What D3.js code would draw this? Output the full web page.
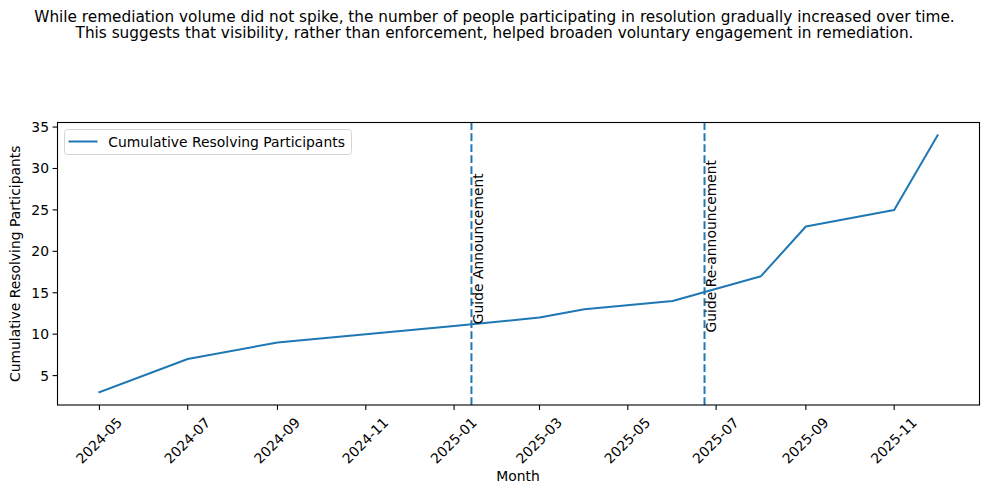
<!DOCTYPE html>
<html><head><meta charset="utf-8">
<script src="https://cdn.jsdelivr.net/npm/d3@7"></script>
<style>body{margin:0;background:#fff}svg{display:block;font-family:"DejaVu Sans",sans-serif}</style>
</head><body><svg id="c" width="989" height="495"></svg>
<script>
const months = ["2024-05-01","2024-07-01","2024-09-01","2024-11-01","2025-01-01","2025-03-01","2025-04-01","2025-06-01","2025-08-01","2025-09-01","2025-11-01","2025-12-01"];
const cumulative = [3,7,9,10,11,12,13,14,17,23,25,34];
const eventDates = ["2025-01-13","2025-06-23"];
const eventLabels = ["Guide Announcement","Guide Re-announcement"];
const eventLabelY = [11.2,10.2];
const yTicks = [5,10,15,20,25,30,35];
const titleLines = ["While remediation volume did not spike, the number of people participating in resolution gradually increased over time.","This suggests that visibility, rather than enforcement, helped broaden voluntary engagement in remediation."];
const seriesName = "Cumulative Resolving Participants";

const parse = d3.utcParse("%Y-%m-%d");
const data = months.map((m,i)=>({date:parse(m), v:cumulative[i]}));
const svg = d3.select("#c");
const L=57.5, R=979.5, T=122.5, B=405;
const color="#1f77b4";
const FS=13.9;
const d0=data[0].date, d1=data[data.length-1].date, span=d1-d0;
const x=d3.scaleUtc().domain([new Date(+d0-span*0.05), new Date(+d1+span*0.05)]).range([L,R]);
const ymin=d3.min(cumulative), ymax=d3.max(cumulative), ys=ymax-ymin;
const y=d3.scaleLinear().domain([ymin-ys*0.05, ymax+ys*0.05]).range([B,T]);

// title
svg.append("g").selectAll("text").data(titleLines).join("text")
  .attr("x",494.5).attr("y",(d,i)=>21.7+i*16.6).attr("text-anchor","middle")
  .attr("font-size",15.3).attr("fill","#000").text(d=>d);

// line
svg.append("path").datum(data).attr("fill","none").attr("stroke",color).attr("stroke-width",2)
  .attr("stroke-linejoin","round").attr("stroke-linecap","square")
  .attr("d",d3.line().x(d=>x(d.date)).y(d=>y(d.v)));

// event lines
eventDates.forEach((ed,i)=>{
  const ex=x(parse(ed));
  svg.append("line").attr("x1",ex).attr("x2",ex).attr("y1",B).attr("y2",T)
    .attr("stroke",color).attr("stroke-width",2).attr("stroke-dasharray","7.7,3.3");
  svg.append("text").attr("transform",`translate(${ex+11.3},${y(eventLabelY[i])}) rotate(-90)`)
    .attr("font-size",FS).attr("fill","#000").text(eventLabels[i]);
});

// axes frame
svg.append("rect").attr("x",L).attr("y",T).attr("width",R-L).attr("height",B-T)
  .attr("fill","none").attr("stroke","#000").attr("stroke-width",1.1);

// x ticks
const xt = d3.utcMonth.every(2).range(parse("2024-05-01"), parse("2025-12-02"));
const fmt = d3.utcFormat("%Y-%m");
const gx = svg.append("g");
xt.forEach(t=>{
  const tx=x(t);
  gx.append("line").attr("x1",tx).attr("x2",tx).attr("y1",B).attr("y2",B+4.9).attr("stroke","#000").attr("stroke-width",1.1);
  gx.append("text").attr("transform",`translate(${tx-0.5},${440.5}) rotate(-45)`)
    .attr("text-anchor","middle").attr("dominant-baseline","central")
    .attr("font-size",FS).text(fmt(t));
});
// y ticks
const gy = svg.append("g");
yTicks.forEach(v=>{
  const ty=y(v);
  gy.append("line").attr("x1",L-4.9).attr("x2",L).attr("y1",ty).attr("y2",ty).attr("stroke","#000").attr("stroke-width",1.1);
  gy.append("text").attr("x",L-8.5).attr("y",ty).attr("text-anchor","end").attr("dominant-baseline","central")
    .attr("font-size",FS).text(v);
});
// axis labels
svg.append("text").attr("x",518).attr("y",480.5).attr("text-anchor","middle").attr("font-size",FS).text("Month");
svg.append("text").attr("transform",`translate(20,${(T+B)/2}) rotate(-90)`).attr("text-anchor","middle").attr("font-size",FS).text(seriesName);

// legend
const lg = svg.append("g");
lg.append("rect").attr("x",64.5).attr("y",129.5).attr("width",287).attr("height",25).attr("rx",3)
  .attr("fill","#fff").attr("fill-opacity",0.8).attr("stroke","#d5d5d5").attr("stroke-width",1);
lg.append("line").attr("x1",68.5).attr("x2",97.5).attr("y1",141.5).attr("y2",141.5).attr("stroke",color).attr("stroke-width",2);
lg.append("text").attr("x",108.3).attr("y",141.8).attr("dominant-baseline","central").attr("font-size",FS).text(seriesName);
</script></body></html>
